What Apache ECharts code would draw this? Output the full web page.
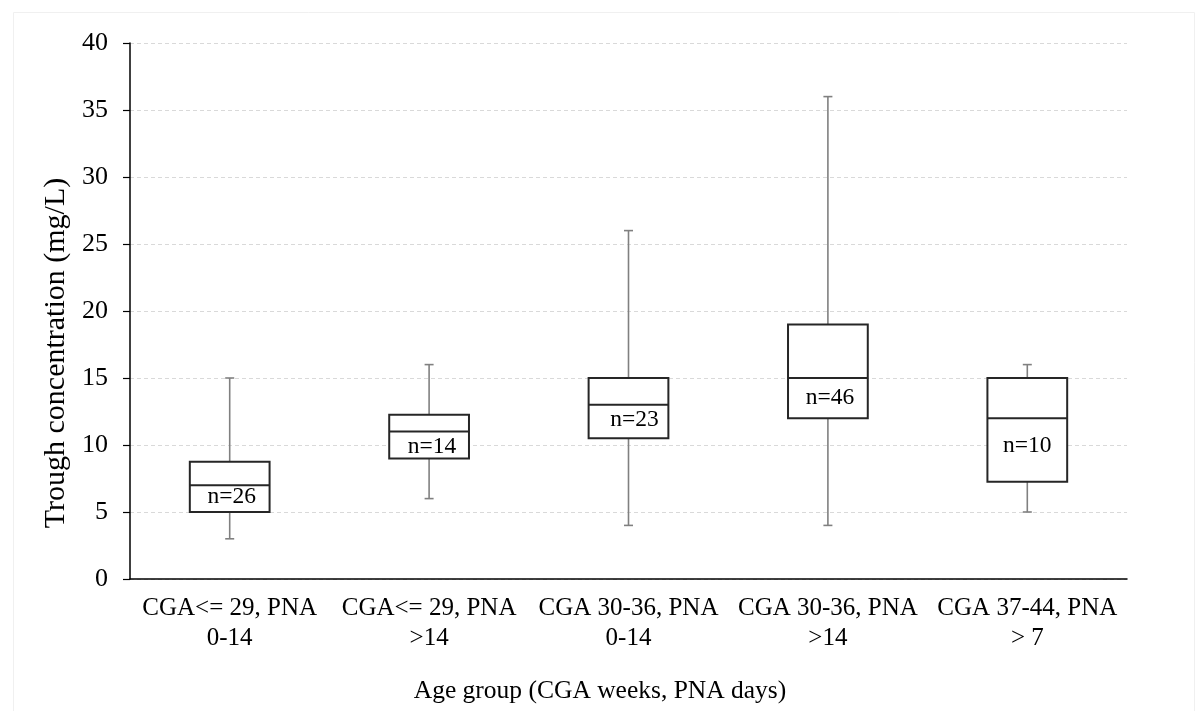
<!DOCTYPE html>
<html>
<head>
<meta charset="utf-8">
<script src="https://cdn.jsdelivr.net/npm/echarts@6/dist/echarts.min.js"></script>
<style>
html,body{margin:0;padding:0;background:#fff;}
#chart{width:1203px;height:711px;}
</style>
</head>
<body>
<div id="chart"></div>
<script>
var categories = ['CGA<= 29, PNA\n0-14', 'CGA<= 29, PNA\n>14', 'CGA 30-36, PNA\n0-14', 'CGA 30-36, PNA\n>14', 'CGA 37-44, PNA\n> 7'];
var mins    = [3, 6, 4, 4, 5];
var q1s     = [5, 9, 10.5, 12, 7.25];
var medians = [7, 11, 13, 15, 12];
var q3s     = [8.75, 12.25, 15, 19, 15];
var maxs    = [15, 16, 26, 36, 16];
var counts  = [26, 14, 23, 46, 10];
var labelY  = [6.15, 9.9, 11.9, 13.5, 9.95];
var yTicks  = [0, 5, 10, 15, 20, 25, 30, 35, 40];

var FONT = "'Liberation Serif', 'Times New Roman', serif";

var boxData = categories.map(function (c, i) {
  return [i, mins[i], q1s[i], medians[i], q3s[i], maxs[i]];
});
var labelData = categories.map(function (c, i) {
  return [i, labelY[i], counts[i]];
});
var labelOffsets = [2, 3, 6, 2, 0];

function renderBox(params, api) {
  var i = api.value(0);
  var pMin = api.coord([i, api.value(1)]);
  var pQ1 = api.coord([i, api.value(2)]);
  var pMed = api.coord([i, api.value(3)]);
  var pQ3 = api.coord([i, api.value(4)]);
  var pMax = api.coord([i, api.value(5)]);
  var band = api.size([1, 0])[0];
  var w = band * 0.4;
  var x = pMed[0];
  var cap = 4.5;
  var grey = { stroke: '#808080', lineWidth: 1.6 };
  var dark = { stroke: '#262626', lineWidth: 2 };
  return {
    type: 'group',
    children: [
      { type: 'line', shape: { x1: x, y1: pQ3[1], x2: x, y2: pMax[1] }, style: grey },
      { type: 'line', shape: { x1: x - cap, y1: pMax[1], x2: x + cap, y2: pMax[1] }, style: grey },
      { type: 'line', shape: { x1: x, y1: pQ1[1], x2: x, y2: pMin[1] }, style: grey },
      { type: 'line', shape: { x1: x - cap, y1: pMin[1], x2: x + cap, y2: pMin[1] }, style: grey },
      { type: 'rect', shape: { x: x - w / 2, y: pQ3[1], width: w, height: pQ1[1] - pQ3[1] },
        style: { fill: '#ffffff', stroke: '#262626', lineWidth: 2 } },
      { type: 'line', shape: { x1: x - w / 2, y1: pMed[1], x2: x + w / 2, y2: pMed[1] }, style: dark }
    ]
  };
}

var chart = echarts.init(document.getElementById('chart'));
chart.setOption({
  backgroundColor: '#ffffff',
  animation: false,
  graphic: [{
    type: 'rect', left: 11, top: 10, shape: { width: 1181, height: 720 },
    style: { fill: 'none', stroke: '#f0f0f0', lineWidth: 1 }, silent: true, z: -10
  }],
  grid: { left: 130, right: 76, top: 43, bottom: 132 },
  xAxis: {
    type: 'category',
    data: categories,
    name: 'Age group (CGA weeks, PNA days)',
    nameLocation: 'middle',
    nameGap: 99,
    nameTextStyle: { fontFamily: FONT, fontSize: 25.5, color: '#000', padding: [0, 57, 0, 0] },
    axisLine: { lineStyle: { color: '#000', width: 1.5 } },
    axisTick: { show: false },
    axisLabel: { interval: 0, fontFamily: FONT, fontSize: 25, color: '#000', lineHeight: 30, margin: 14 },
    splitLine: { show: false }
  },
  yAxis: {
    type: 'value',
    min: yTicks[0],
    max: yTicks[yTicks.length - 1],
    interval: yTicks[1] - yTicks[0],
    name: 'Trough concentration (mg/L)',
    nameLocation: 'middle',
    nameGap: 58,
    nameTextStyle: { fontFamily: FONT, fontSize: 30, color: '#000', padding: [0, 84, 0, 0] },
    axisLine: { show: true, lineStyle: { color: '#000', width: 1.5 } },
    axisTick: { show: true, length: 7, lineStyle: { color: '#000', width: 1.2 } },
    axisLabel: { fontFamily: FONT, fontSize: 26, color: '#000', margin: 22 },
    splitLine: { show: true, lineStyle: { color: '#d9d9d9', type: [4, 3], width: 1 } }
  },
  series: [
    {
      type: 'custom',
      renderItem: renderBox,
      data: boxData,
      encode: { x: 0, y: [1, 2, 3, 4, 5] },
      z: 2
    },
    {
      type: 'scatter',
      data: labelData,
      symbolSize: 0,
      z: 5,
      itemStyle: { opacity: 1 },
      label: {
        show: true,
        position: 'inside',
        fontFamily: FONT,
        fontSize: 23.5,
        color: '#000',
        opacity: 1,
        formatter: function (p) { return 'n=' + p.value[2]; }
      },
      labelLayout: function (p) {
        return { dx: labelOffsets[p.dataIndex] };
      }
    }
  ]
});
</script>
</body>
</html>
